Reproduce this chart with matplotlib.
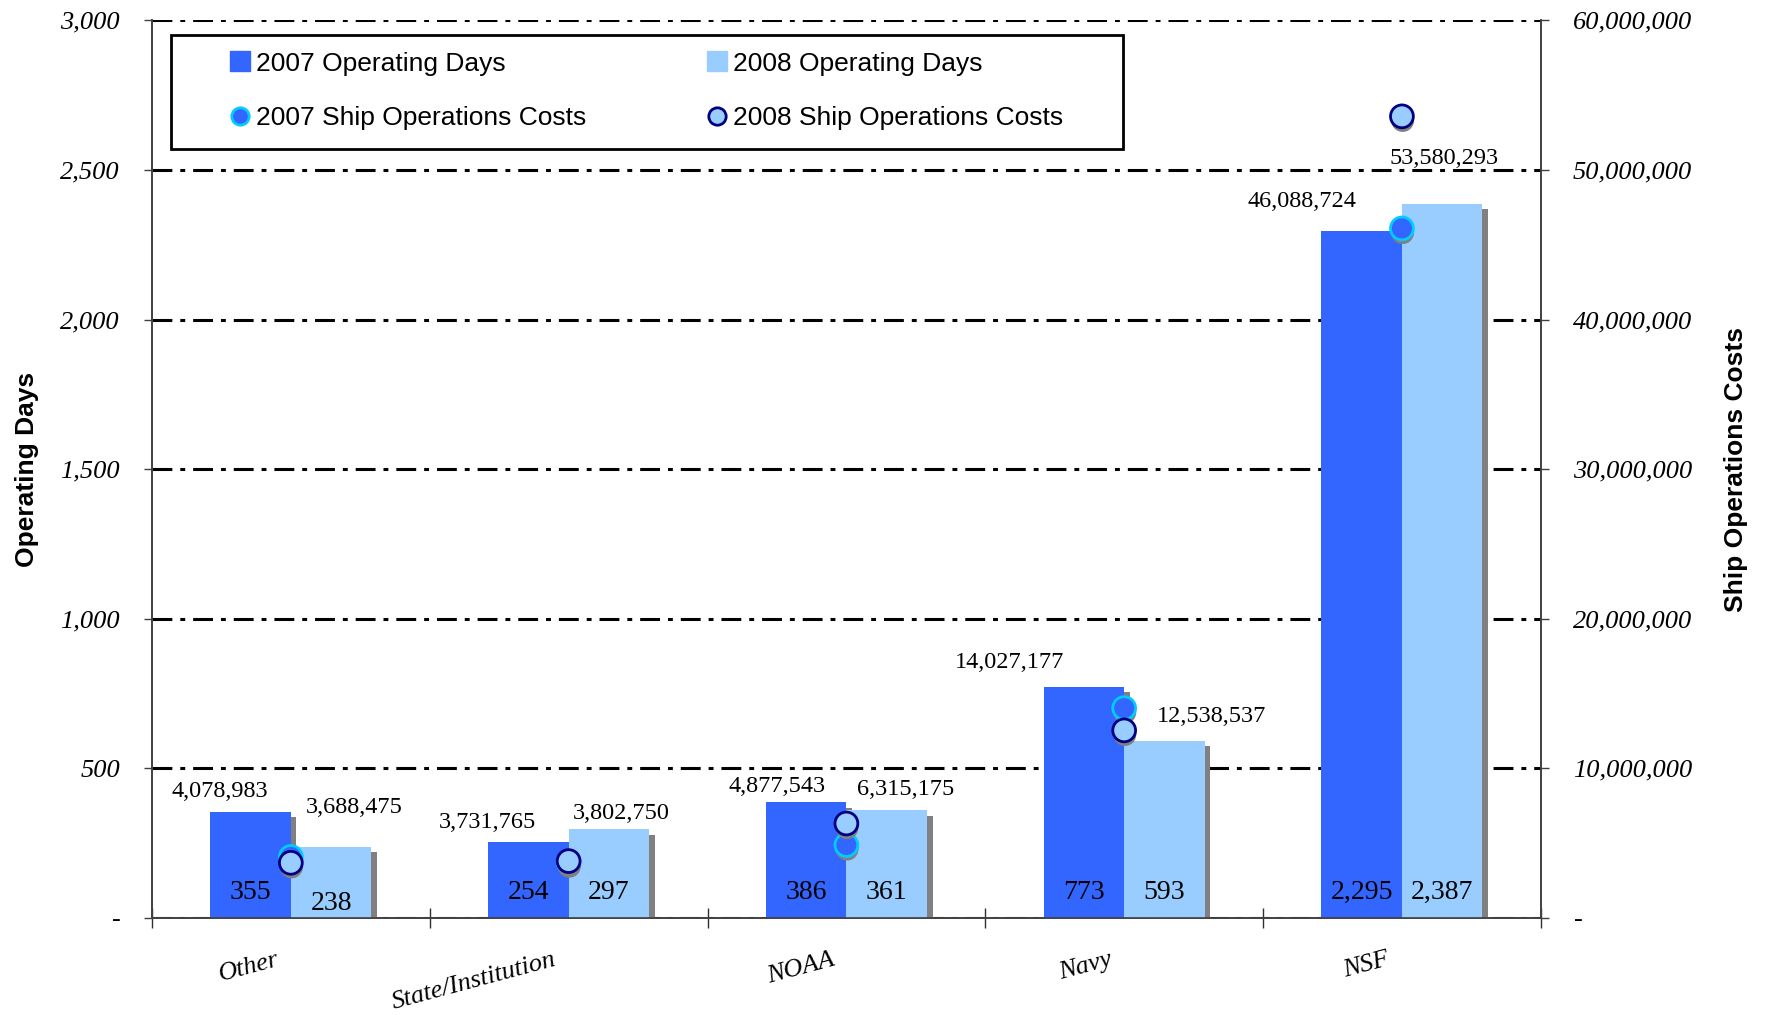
import matplotlib
matplotlib.use('Agg')
import matplotlib.pyplot as plt
import matplotlib.patheffects as pe
from matplotlib.lines import Line2D
from matplotlib.patches import Rectangle
from matplotlib.ticker import FuncFormatter
import numpy as np

# Data
categories = ['Other', 'State/Institution', 'NOAA', 'Navy', 'NSF']
days_2007 = [355, 254, 386, 773, 2295]
days_2008 = [238, 297, 361, 593, 2387]
costs_2007 = [4078983, 3731765, 4877543, 14027177, 46088724]
costs_2008 = [3688475, 3802750, 6315175, 12538537, 53580293]
days_ticks = [0, 500, 1000, 1500, 2000, 2500, 3000]
cost_ticks = [0, 10e6, 20e6, 30e6, 40e6, 50e6, 60e6]

# Colors / fonts
c07 = '#3366FF'
c08 = '#99CCFF'
c07_edge = '#00CCFF'
c08_edge = '#000080'
shadow = '#808080'
serif = 'Liberation Serif'
sans = 'Liberation Sans'

fig = plt.figure(figsize=(17.67, 10.15), dpi=100)
ax = fig.add_axes([0.086, 0.0956, 0.786, 0.8844])

x = np.arange(len(categories))
w = 0.29
bar_fx = [pe.SimplePatchShadow(offset=(4, -4), shadow_rgbFace=shadow, alpha=1.0), pe.Normal()]
b07 = ax.bar(x - w / 2, days_2007, w, color=c07, zorder=3)
b08 = ax.bar(x + w / 2, days_2008, w, color=c08, zorder=4)
for b in list(b07) + list(b08):
    b.set_path_effects(bar_fx)

ax.set_xlim(-0.5, len(categories) - 0.5)
ax.set_ylim(0, 3000)
ax.set_yticks(days_ticks)
ax.yaxis.set_major_formatter(FuncFormatter(lambda v, p: '-' if v == 0 else f'{v:,.0f}'))
ax.yaxis.grid(True, color='black', lw=2.2, linestyle=(0, (6.5, 2.6, 1.6, 2.6)), zorder=1)
ax.set_axisbelow(True)

# category boundary ticks
ax.set_xticks(np.arange(-0.5, len(categories), 1.0))
ax.set_xticklabels([])
ax.tick_params(axis='x', direction='inout', length=15, width=1, color='#303030')
ax.tick_params(axis='y', direction='out', length=6, width=1, pad=17, color='#404040')
for t in ax.get_yticklabels():
    t.set_fontfamily(serif)
    t.set_fontstyle('italic')
    t.set_fontsize(19)

ax.spines['top'].set_visible(False)
for s in ['left', 'right', 'bottom']:
    ax.spines[s].set_color('#404040')
    ax.spines[s].set_linewidth(1.2)

# category labels
for xi, name in zip(x, categories):
    ax.annotate(name, xy=(xi - 0.04, 0), xycoords=('data', 'axes fraction'),
                xytext=(0, -34), textcoords='offset points',
                ha='right', va='baseline', rotation=15, rotation_mode='anchor',
                fontsize=19, family=serif, style='italic')

# in-bar day labels
inbar_y07 = [94, 94, 94, 94, 94]
inbar_y08 = [56, 94, 94, 94, 94]
for xi, d, yy in zip(x, days_2007, inbar_y07):
    ax.text(xi - w / 2, yy - 8, f'{d:,}', ha='center', va='center', fontsize=20, family=serif, zorder=6)
for xi, d, yy in zip(x, days_2008, inbar_y08):
    ax.text(xi + w / 2, yy - 8, f'{d:,}', ha='center', va='center', fontsize=20, family=serif, zorder=6)

# cost labels (positions: dx from category center, y in operating-days units)
pos07 = [(-0.256, 421), (-0.291, 320), (-0.248, 440), (-0.412, 853), (-0.36, 2395)]
pos08 = [(0.23, 368), (0.19, 350), (0.215, 429), (0.315, 673), (0.151, 2538)]
for xi, c, (dx, yy) in zip(x, costs_2007, pos07):
    ax.text(xi + dx, yy, f'{c:,}', ha='center', va='center', fontsize=17.5, family=serif, zorder=6)
for xi, c, (dx, yy) in zip(x, costs_2008, pos08):
    ax.text(xi + dx, yy, f'{c:,}', ha='center', va='center', fontsize=17.5, family=serif, zorder=6)

ax.set_ylabel('Operating Days', fontsize=19, family=sans, fontweight='bold')
ax.yaxis.set_label_coords(-0.0814, 0.5)

# secondary axis: ship operation costs
ax2 = ax.twinx()
ax2.set_ylim(0, 60e6)
ax2.set_yticks(cost_ticks)
ax2.yaxis.set_major_formatter(FuncFormatter(lambda v, p: '-' if v == 0 else f'{v:,.0f}'))
ax2.tick_params(axis='y', direction='out', length=6, width=1, pad=17, color='#404040')
for t in ax2.get_yticklabels():
    t.set_fontfamily(serif)
    t.set_fontstyle('italic')
    t.set_fontsize(19)
ax2.spines['top'].set_visible(False)
for s in ['left', 'right', 'bottom']:
    ax2.spines[s].set_color('#404040')
    ax2.spines[s].set_linewidth(1.2)

dot_fx = [pe.SimplePatchShadow(offset=(0.5, -3), shadow_rgbFace=shadow, alpha=1.0), pe.Normal()]
ax2.scatter(x, costs_2007, s=270, c=c07, edgecolors=c07_edge, linewidths=2, zorder=5, path_effects=dot_fx)
ax2.scatter(x, costs_2008, s=270, c=c08, edgecolors=c08_edge, linewidths=2, zorder=6, path_effects=dot_fx)

ax2.set_ylabel('Ship Operations Costs', fontsize=19, family=sans, fontweight='bold')
ax2.yaxis.set_label_coords(1.132, 0.5)

# legend box
box = Rectangle((0.0137, 0.857), 0.6854, 0.127, transform=ax2.transAxes, facecolor='white',
                edgecolor='black', linewidth=2, zorder=9)
ax2.add_patch(box)

h07d = Line2D([], [], marker='s', linestyle='none', markersize=14, markerfacecolor=c07, markeredgecolor=c07)
h07c = Line2D([], [], marker='o', linestyle='none', markersize=12.5, markerfacecolor=c07, markeredgecolor=c07_edge, markeredgewidth=2)
h08d = Line2D([], [], marker='s', linestyle='none', markersize=14, markerfacecolor=c08, markeredgecolor=c08)
h08c = Line2D([], [], marker='o', linestyle='none', markersize=12.5, markerfacecolor=c08, markeredgecolor=c08_edge, markeredgewidth=2)
leg = ax2.legend([h07d, h07c, h08d, h08c],
                 ['2007 Operating Days', '2007 Ship Operations Costs', '2008 Operating Days', '2008 Ship Operations Costs'],
                 ncol=2, loc='upper left', bbox_to_anchor=(0.0558, 0.965),
                 prop={'family': sans, 'size': 19}, frameon=False,
                 handlelength=0.8, handletextpad=0.2, labelspacing=1.15, columnspacing=4.55,
                 borderpad=0, borderaxespad=0)
leg.set_zorder(10)

fig.savefig('out.png', dpi=100)
